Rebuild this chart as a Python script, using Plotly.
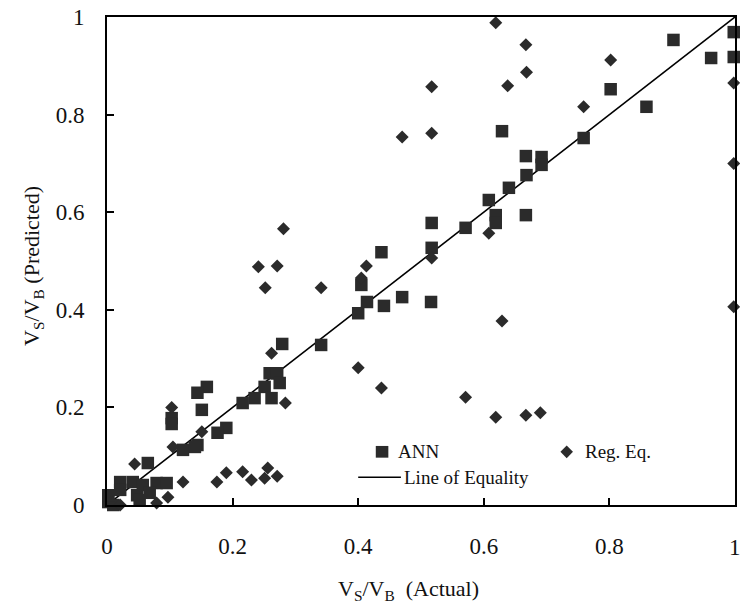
import plotly.graph_objects as go

# ANN predictions
ann_x = [0.998, 0.998, 0.962, 0.902, 0.859, 0.802, 0.759, 0.629, 0.667, 0.692, 0.692, 0.668,
         0.640, 0.608, 0.619, 0.619, 0.667, 0.571, 0.517, 0.517, 0.437, 0.405, 0.414, 0.441,
         0.470, 0.516, 0.400, 0.279, 0.341, 0.259, 0.271, 0.275, 0.251, 0.235, 0.216, 0.262,
         0.159, 0.144, 0.151, 0.103, 0.103, 0.190, 0.176, 0.144, 0.121, 0.140, 0.065, 0.021,
         0.021, 0.041, 0.057, 0.079, 0.095, 0.048, 0.068, 0.052, 0.002, 0.010, 0.002]
ann_y = [0.969, 0.918, 0.916, 0.953, 0.816, 0.852, 0.752, 0.766, 0.715, 0.713, 0.697, 0.676,
         0.650, 0.625, 0.594, 0.578, 0.594, 0.568, 0.578, 0.527, 0.518, 0.451, 0.416, 0.408,
         0.426, 0.416, 0.393, 0.330, 0.328, 0.270, 0.270, 0.250, 0.242, 0.219, 0.209, 0.219,
         0.242, 0.230, 0.195, 0.178, 0.166, 0.158, 0.148, 0.123, 0.113, 0.119, 0.086, 0.047,
         0.031, 0.047, 0.041, 0.045, 0.045, 0.020, 0.025, 0.010, 0.006, 0.000, 0.020]

# Regression equation predictions
reg_x = [0.619, 0.667, 0.668, 0.638, 0.517, 0.517, 0.470, 0.802, 0.759, 0.998, 0.998, 0.998,
         0.608, 0.517, 0.413, 0.405, 0.629, 0.400, 0.437, 0.571, 0.619, 0.667, 0.690, 0.281,
         0.241, 0.271, 0.252, 0.341, 0.262, 0.284, 0.103, 0.105, 0.151, 0.044, 0.121, 0.175,
         0.190, 0.216, 0.230, 0.256, 0.251, 0.271, 0.097, 0.079, 0.021]
reg_y = [0.988, 0.943, 0.887, 0.859, 0.857, 0.762, 0.754, 0.912, 0.816, 0.865, 0.700, 0.406,
         0.557, 0.506, 0.490, 0.465, 0.377, 0.281, 0.240, 0.221, 0.180, 0.184, 0.189, 0.566,
         0.488, 0.490, 0.445, 0.445, 0.311, 0.209, 0.200, 0.119, 0.150, 0.084, 0.047, 0.047,
         0.066, 0.068, 0.051, 0.076, 0.055, 0.059, 0.016, 0.004, 0.000]

eq_x = [0, 1]
eq_y = [0, 1]

x_ticks = [0, 0.2, 0.4, 0.6, 0.8, 1]
x_ticklabels = ["0", "0.2", "0.4", "0.6", "0.8", "1"]
y_ticks = [0, 0.2, 0.4, 0.6, 0.8, 1]
y_ticklabels = ["0", "0.2", "0.4", "0.6", "0.8", "1"]

FONT = "Liberation Serif"
MARK = "#2b2b2b"
TXT = "#111"

fig = go.Figure()
fig.add_trace(go.Scatter(x=eq_x, y=eq_y, mode="lines", line=dict(color="black", width=1.6),
                         name="Line of Equality", showlegend=False, hoverinfo="skip"))
fig.add_trace(go.Scatter(x=ann_x, y=ann_y, mode="markers", name="ANN", showlegend=False,
                         marker=dict(symbol="square", size=12.5, color=MARK), cliponaxis=False))
fig.add_trace(go.Scatter(x=reg_x, y=reg_y, mode="markers", name="Reg. Eq.", showlegend=False,
                         marker=dict(symbol="diamond", size=10, color=MARK), cliponaxis=False))

axis_common = dict(showgrid=False, zeroline=False, showline=True, linecolor="black", linewidth=1.6,
                   mirror=True, ticks="inside", ticklen=7, tickwidth=1.5, tickcolor="black",
                   tickfont=dict(family=FONT, size=23, color=TXT), range=[0, 1])

# last x tick label sits at the page edge; it is drawn as an annotation below
x_ticktext_axis = [t if v < 1 else "" for v, t in zip(x_ticks, x_ticklabels)]
fig.update_xaxes(**axis_common, tickvals=x_ticks, ticktext=x_ticktext_axis, ticklabelstandoff=20)
fig.update_yaxes(**axis_common, tickvals=y_ticks, ticktext=y_ticklabels, ticklabelstandoff=16)

for v, t in zip(x_ticks, x_ticklabels):
    if v >= 1:
        fig.add_annotation(xref="x", yref="paper", x=v, y=0, yshift=-42, text=t, showarrow=False,
                           xanchor="center", yanchor="middle",
                           font=dict(family=FONT, size=23, color=TXT))

# manual legend
fig.add_shape(type="rect", xref="paper", yref="paper", x0=0.428, x1=0.448, y0=0.097, y1=0.121,
              fillcolor=MARK, line=dict(width=0))
fig.add_shape(type="path", xref="paper", yref="paper",
              path="M 0.722 0.109 L 0.732 0.122 L 0.742 0.109 L 0.732 0.096 Z",
              fillcolor=MARK, line=dict(width=0))
fig.add_shape(type="line", xref="paper", yref="paper", x0=0.400, x1=0.468, y0=0.057, y1=0.057,
              line=dict(color="black", width=1.4))
leg_font = dict(family=FONT, size=19, color=TXT)
fig.add_annotation(xref="paper", yref="paper", x=0.46, y=0.109, text="ANN", showarrow=False,
                   xanchor="left", yanchor="middle", font=leg_font)
fig.add_annotation(xref="paper", yref="paper", x=0.758, y=0.109, text="Reg. Eq.", showarrow=False,
                   xanchor="left", yanchor="middle", font=leg_font)
fig.add_annotation(xref="paper", yref="paper", x=0.470, y=0.057, text="Line of Equality",
                   showarrow=False, xanchor="left", yanchor="middle", font=leg_font)

# axis titles
fig.add_annotation(xref="paper", yref="paper", x=0.48, y=0, yshift=-85,
                   text="V<sub>S</sub>/V<sub>B</sub>  (Actual)", showarrow=False,
                   xanchor="center", yanchor="middle", font=dict(family=FONT, size=22, color=TXT))
fig.add_annotation(xref="paper", yref="paper", x=0, xshift=-74, y=0.49,
                   text="V<sub>S</sub>/V<sub>B</sub> (Predicted)", showarrow=False, textangle=-90,
                   xanchor="center", yanchor="middle", font=dict(family=FONT, size=22, color=TXT))

fig.update_layout(width=740, height=605, margin=dict(l=107, r=3, t=17, b=100),
                  paper_bgcolor="white", plot_bgcolor="white", showlegend=False)

fig.write_html("out.html")
